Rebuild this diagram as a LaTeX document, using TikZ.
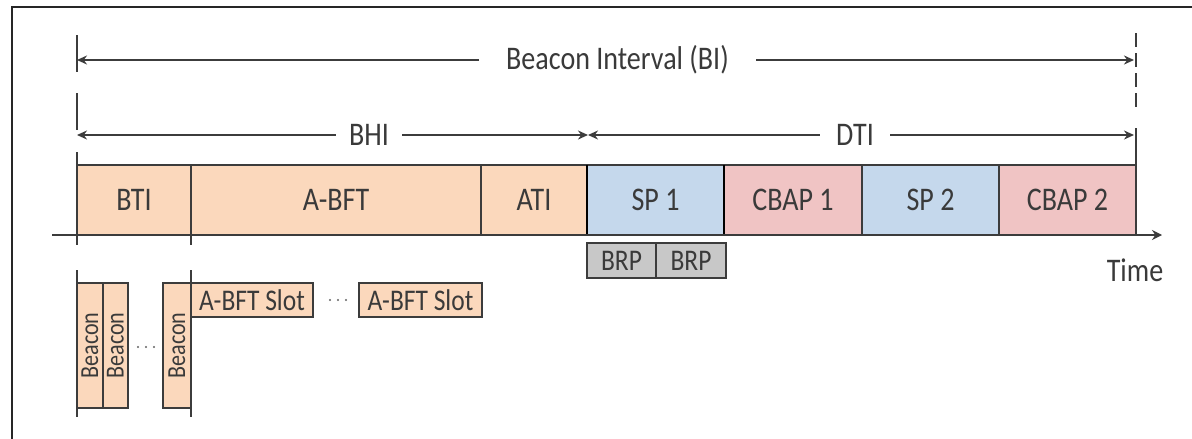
\documentclass[tikz,border=0pt]{standalone}
\usepackage{fontspec}
\setmainfont[FakeStretch=0.85]{Carlito}
\usetikzlibrary{arrows.meta}
\definecolor{peach}{HTML}{FBD8BC}
\definecolor{spblue}{HTML}{C5D8EC}
\definecolor{cbpink}{HTML}{F0C4C4}
\definecolor{brpgray}{HTML}{C8C8C8}
\definecolor{ink}{HTML}{3C3C3C}
\definecolor{txt}{HTML}{3A3A3A}
\tikzset{
  seg/.style={draw=ink, line width=1.5pt, minimum height=70pt, inner sep=0pt, outer sep=0pt,
    text=txt, font=\fontsize{33}{36}\selectfont},
  brpbox/.style={draw=ink, fill=brpgray, line width=1.8pt, minimum height=35pt, inner sep=0pt, outer sep=0pt,
    text=txt, font=\fontsize{30}{32}\selectfont},
  beaconbox/.style={draw=ink, fill=peach, line width=1.5pt, minimum height=125pt, inner sep=0pt, outer sep=0pt},
  beacontext/.style={rotate=90, text=txt, font=\fontsize{26}{28}\selectfont, inner sep=0pt},
  slotbox/.style={draw=ink, fill=peach, line width=1.8pt, minimum height=34pt, inner sep=0pt, outer sep=0pt,
    text=txt, font=\fontsize{30}{32}\selectfont},
  dimline/.style={draw=ink, line width=1.6pt},
  dimarrow/.style={dimline, -{Stealth[length=10pt, width=9pt]}},
  dimlabel/.style={text=txt, font=\fontsize{33}{36}\selectfont, inner ysep=0pt},
  tickline/.style={draw=ink, line width=1.6pt},
  dotline/.style={draw=ink!80, line width=2.4pt, line cap=round, dash pattern=on 0pt off 8pt},
  framel/.style={draw=black!85, line width=2pt},
}
\begin{document}
\begin{tikzpicture}[x=1pt, y=-1pt]
\useasboundingbox (0,0) rectangle (1192,439);
\fill[white] (0,0) rectangle (1192,439);
% frame
\coordinate (f1) at (12,439);
\coordinate (f2) at (12,7);
\coordinate (f3) at (1192,7);
\draw[framel] (f1) -- (f2) -- (f3);

% main segments
\node[seg, fill=peach, minimum width=114pt] (bti) at (134,200) {BTI};
\node[seg, fill=peach, minimum width=290pt] (abft) at (336,200) {A-BFT};
\node[seg, fill=peach, minimum width=106pt] (ati) at (534,200) {ATI};
\node[seg, fill=spblue, minimum width=137pt] (sp1) at (655.5,200) {SP 1};
\node[seg, fill=cbpink, minimum width=138pt] (cbap1) at (793,200) {CBAP 1};
\node[seg, fill=spblue, minimum width=137pt] (sp2) at (930.5,200) {SP 2};
\node[seg, fill=cbpink, minimum width=137pt] (cbap2) at (1067.5,200) {CBAP 2};
\draw[black, line width=2.5pt] (sp1.north west) -- (sp1.south west) (sp1.north east) -- (sp1.south east);

% time axis
\coordinate (axs) at (52,235);
\coordinate (axe) at (1162,235);
\draw[dimline, -{Stealth[length=10pt, width=10pt]}] (axs) -- (axe);
\node[text=txt, font=\fontsize{33}{36}\selectfont] (time) at (1135,270) {Time};

% BRP
\node[brpbox, minimum width=69pt] (brp1) at (621.5,260.5) {BRP};
\node[brpbox, minimum width=70pt] (brp2) at (691,260.5) {BRP};

% ticks at segment boundaries
\coordinate (t1a) at (77,152);
\coordinate (t1b) at (77,245);
\coordinate (t2a) at (191,235);
\coordinate (t2b) at (191,245);
\draw[tickline] (t1a) -- (t1b);
\draw[tickline] (t2a) -- (t2b);

% Beacon interval
\coordinate (biL) at (77,60);
\coordinate (biR) at (1134,60);
\coordinate (biLt) at (77,35);
\coordinate (biLb) at (77,72);
\coordinate (biRt) at (1136,33);
\coordinate (biRb) at (1136,107);
\node[dimlabel, inner xsep=27pt] (bi) at (617.5,60) {Beacon Interval (BI)};
\draw[dimarrow] (bi.west) -- (biL);
\draw[dimarrow] (bi.east) -- (biR);
\draw[tickline] (biLt) -- (biLb);
\draw[tickline, dash pattern=on 14pt off 6pt] (biRt) -- (biRb);

% BHI / DTI
\coordinate (bhL) at (77,135);
\coordinate (mid) at (588,135);
\coordinate (dtR) at (1134,135);
\coordinate (bhLt) at (77,93);
\coordinate (bhLb) at (77,130);
\coordinate (dtRt) at (1136,128);
\coordinate (dtRb) at (1136,165);
\node[dimlabel, inner xsep=13pt] (bhi) at (369,135) {BHI};
\node[dimlabel, inner xsep=16pt] (dti) at (855,135) {DTI};
\draw[dimarrow] (bhi.west) -- (bhL);
\draw[dimarrow] (bhi.east) -- (mid);
\draw[dimarrow] (dti.west) -- (mid);
\draw[dimarrow] (dti.east) -- (dtR);
\draw[tickline] (bhLt) -- (bhLb);
\draw[tickline] (dtRt) -- (dtRb);

% lower detail: beacons
\node[beaconbox, minimum width=26pt] (b1) at (90,345.5) {};
\node[beaconbox, minimum width=25pt] (b2) at (115.5,345.5) {};
\node[beaconbox, minimum width=28pt] (b3) at (177,345.5) {};
\node[beacontext] (b1t) at (b1.center) {Beacon};
\node[beacontext] (b2t) at (b2.center) {Beacon};
\node[beacontext] (b3t) at (b3.center) {Beacon};
\coordinate (lv1a) at (77,270);
\coordinate (lv1b) at (77,417);
\coordinate (lv2a) at (191,270);
\coordinate (lv2b) at (191,417);
\draw[tickline] (lv1a) -- (lv1b);
\draw[tickline] (lv2a) -- (lv2b);
\coordinate (d1a) at (138,347);
\coordinate (d1b) at (160,347);
\draw[dotline] (d1a) -- (d1b);

% A-BFT slots
\node[slotbox, minimum width=122pt] (s1) at (252,300) {A-BFT Slot};
\node[slotbox, minimum width=123pt] (s2) at (420.5,300) {A-BFT Slot};
\coordinate (d2a) at (330,300);
\coordinate (d2b) at (352,300);
\draw[dotline] (d2a) -- (d2b);
\end{tikzpicture}
\end{document}
